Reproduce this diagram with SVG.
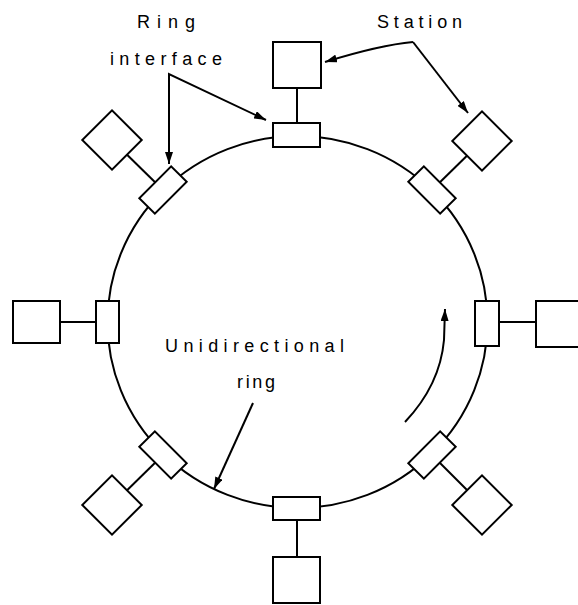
<svg xmlns="http://www.w3.org/2000/svg" width="578" height="605" viewBox="0 0 578 605">
<style>
.ln{fill:none;stroke:#000;stroke-width:2}
.box{fill:#fff;stroke:#000;stroke-width:2}
.lbl{font-family:"Liberation Sans",Arial,sans-serif;font-size:18px;fill:#000}
</style>
<defs>
<marker id="ah" viewBox="0 0 12 8" refX="12" refY="4" markerWidth="12" markerHeight="8" markerUnits="userSpaceOnUse" orient="auto">
<path d="M0,0 L12,4 L0,8 Z" fill="#000"/>
</marker>
</defs>
<rect width="578" height="605" fill="#fff"/>
<g id="ring">
<ellipse class="ln" cx="297.5" cy="322" rx="190" ry="186"/>
</g>
<g id="connectors">
<line class="ln" x1="297" y1="88" x2="297" y2="123"/>
<line class="ln" x1="297" y1="520" x2="297" y2="557"/>
<line class="ln" x1="60" y1="322" x2="96" y2="322"/>
<line class="ln" x1="499" y1="322" x2="536" y2="322"/>
<line class="ln" x1="163" y1="190" x2="112" y2="140"/>
<line class="ln" x1="432" y1="190" x2="482" y2="141"/>
<line class="ln" x1="163" y1="455" x2="112" y2="505"/>
<line class="ln" x1="432" y1="455" x2="482" y2="505"/>
<polyline class="ln" points="169,164 169,74 266,120" marker-end="url(#ah)"/>
<line class="ln" x1="169" y1="74" x2="169" y2="164" marker-end="url(#ah)"/>
<path class="ln" d="M413,42 L468,113" marker-end="url(#ah)"/>
<path class="ln" d="M413,42 Q380,45 325,62" marker-end="url(#ah)"/>
<line class="ln" x1="253" y1="403" x2="214" y2="489" marker-end="url(#ah)"/>
<path class="ln" d="M405,422 Q440,385 444,340 L445,309" marker-end="url(#ah)"/>
</g>
<g id="if-top"><rect class="box" x="273" y="123" width="47" height="24"/></g>
<g id="if-bottom"><rect class="box" x="273" y="497" width="47" height="23"/></g>
<g id="if-left"><rect class="box" x="96" y="301" width="23" height="42"/></g>
<g id="if-right"><rect class="box" x="475" y="301" width="24" height="45"/></g>
<g id="if-tl"><rect class="box" x="-22.5" y="-11" width="45" height="22" transform="translate(163,190) rotate(-45)"/></g>
<g id="if-tr"><rect class="box" x="-22.5" y="-11" width="45" height="22" transform="translate(432,190) rotate(45)"/></g>
<g id="if-bl"><rect class="box" x="-22.5" y="-11" width="45" height="22" transform="translate(163,455) rotate(45)"/></g>
<g id="if-br"><rect class="box" x="-22.5" y="-11" width="45" height="22" transform="translate(432,455) rotate(-45)"/></g>
<g id="st-top"><rect class="box" x="273" y="42" width="48" height="46"/></g>
<g id="st-bottom"><rect class="box" x="273" y="557" width="47" height="46"/></g>
<g id="st-left"><rect class="box" x="13" y="301" width="47" height="42"/></g>
<g id="st-right"><rect class="box" x="536" y="301" width="50" height="46"/></g>
<g id="st-tl"><rect class="box" x="-21" y="-21" width="42" height="42" transform="translate(112,140) rotate(45)"/></g>
<g id="st-tr"><rect class="box" x="-21" y="-21" width="42" height="42" transform="translate(482,141) rotate(45)"/></g>
<g id="st-bl"><rect class="box" x="-21" y="-21" width="42" height="42" transform="translate(112,505) rotate(45)"/></g>
<g id="st-br"><rect class="box" x="-21" y="-21" width="42" height="42" transform="translate(482,505) rotate(45)"/></g>
<g id="labels">
<text class="lbl" x="137" y="28" textLength="58" lengthAdjust="spacing">Ring</text>
<text class="lbl" x="110" y="65" textLength="112" lengthAdjust="spacing">interface</text>
<text class="lbl" x="377" y="28" textLength="85" lengthAdjust="spacing">Station</text>
<text class="lbl" x="165" y="352" textLength="179" lengthAdjust="spacing">Unidirectional</text>
<text class="lbl" x="237" y="388" textLength="38" lengthAdjust="spacing">ring</text>
</g>
</svg>
